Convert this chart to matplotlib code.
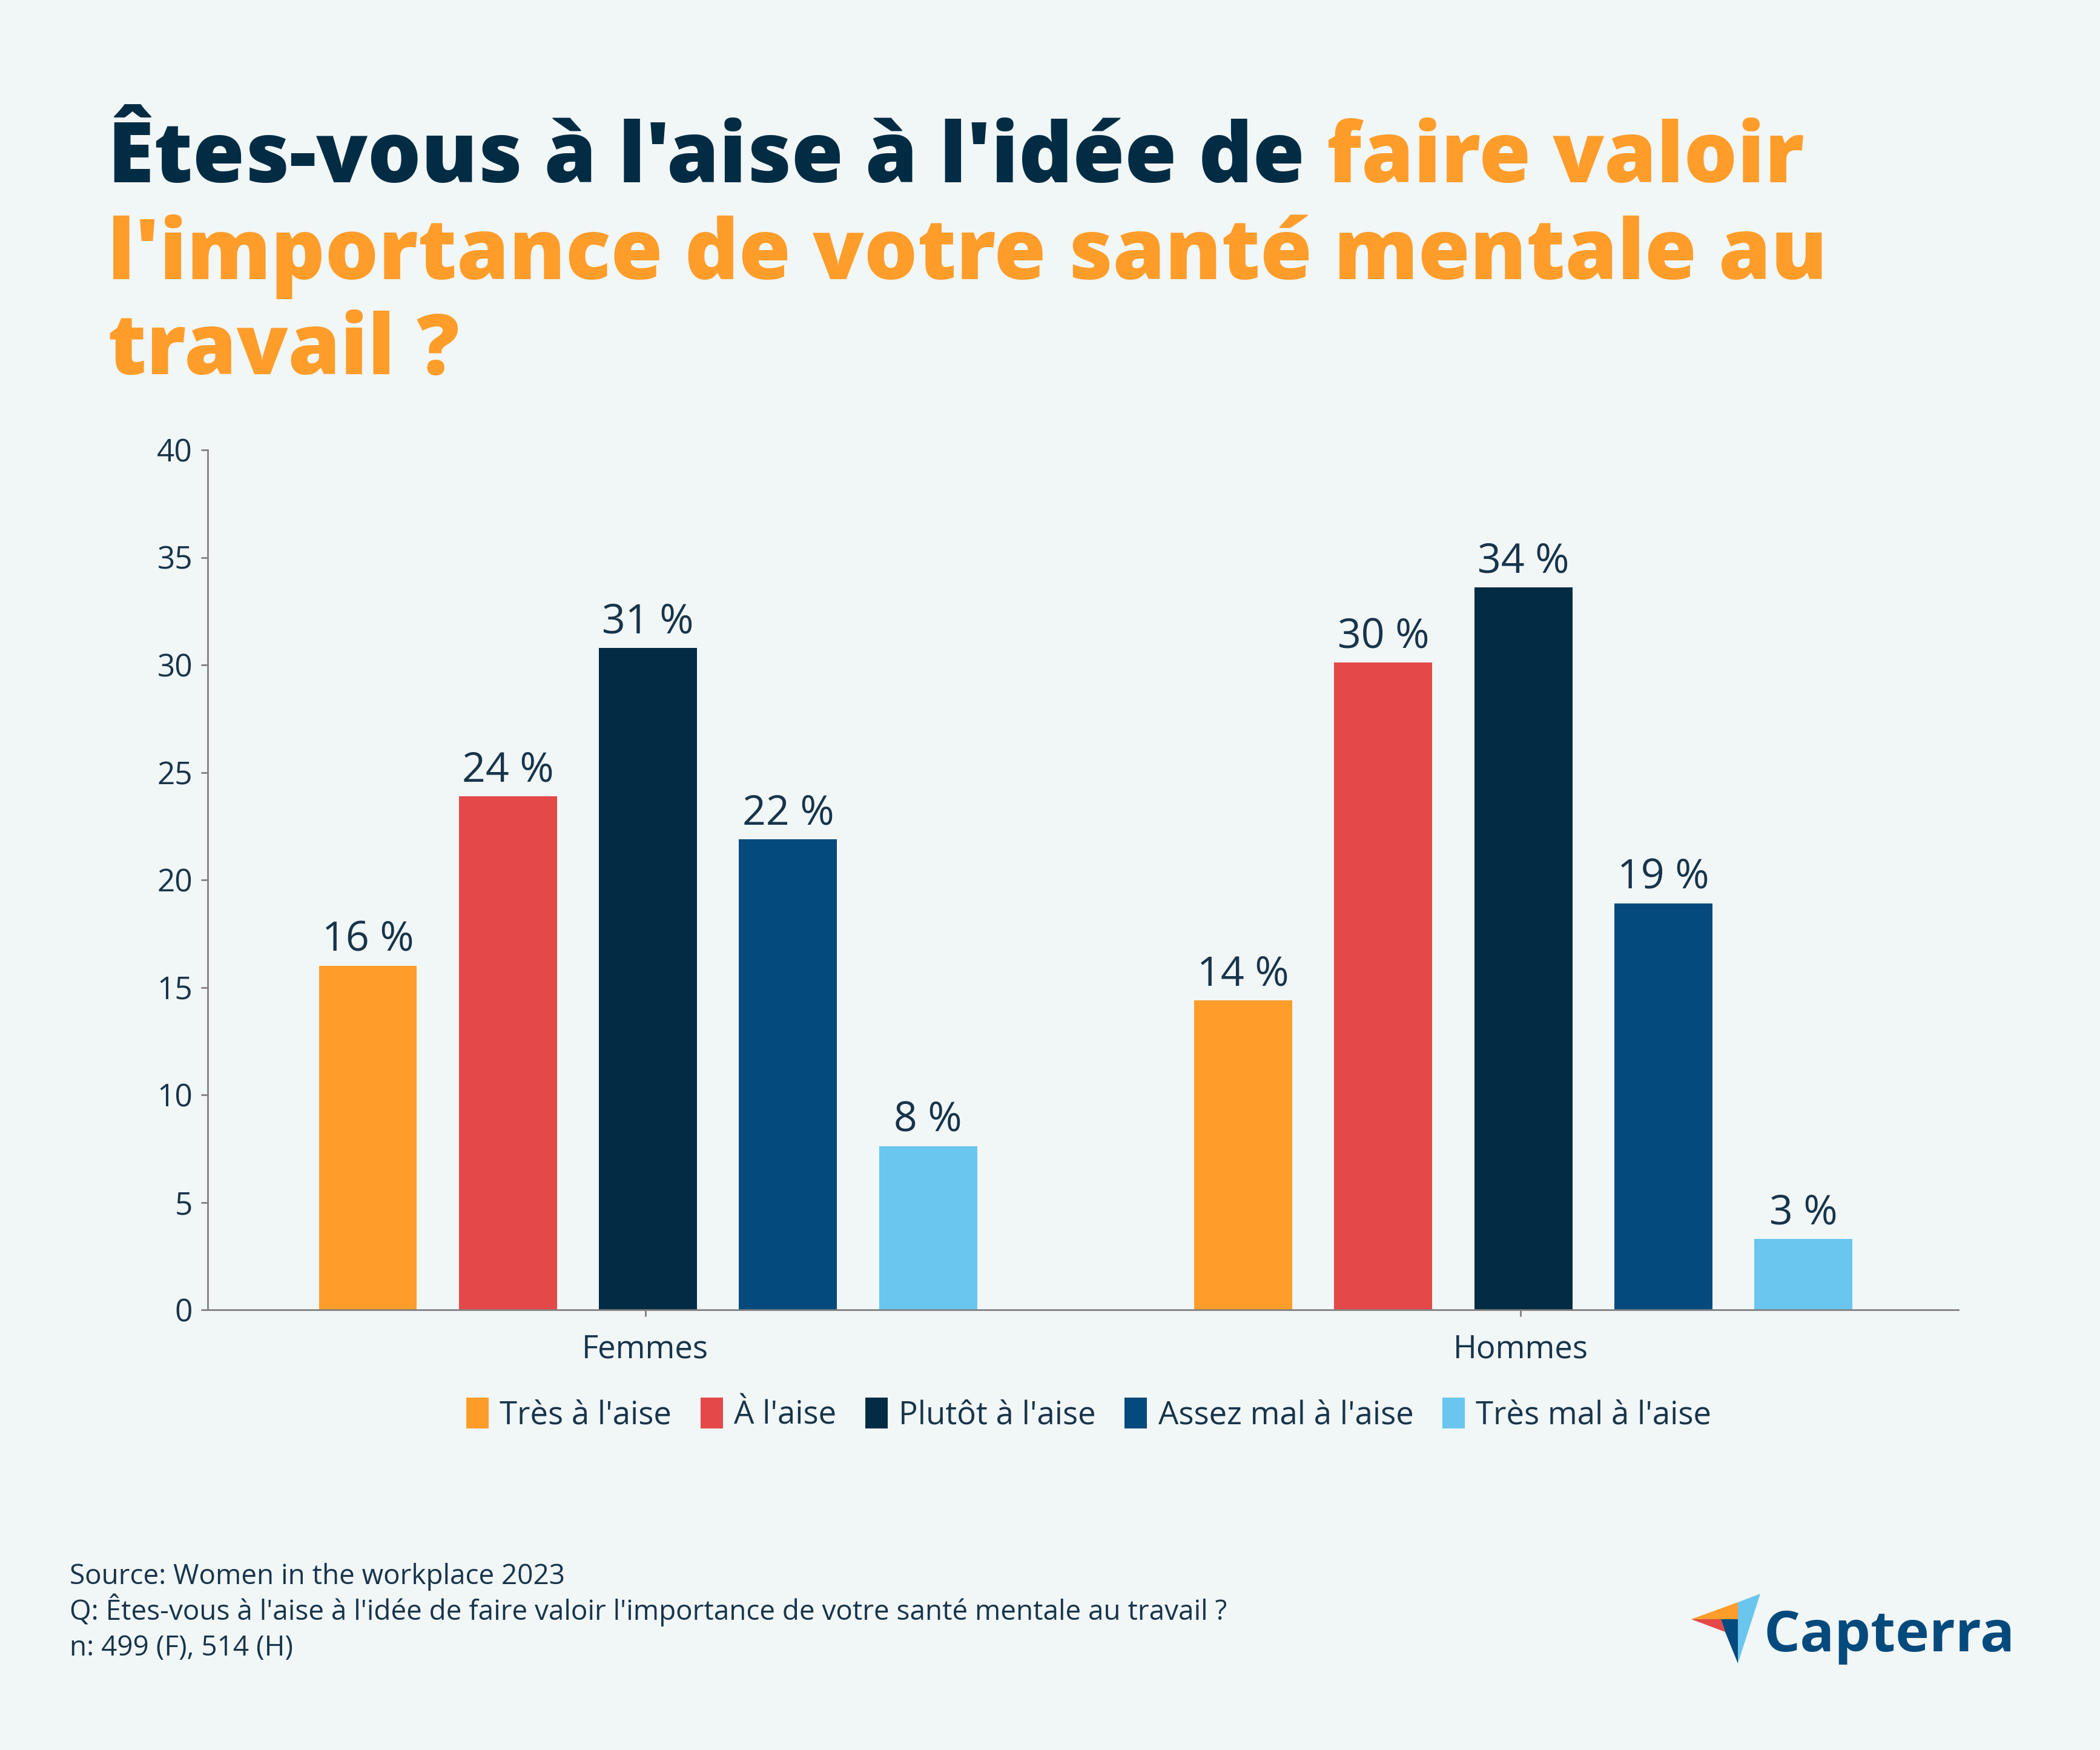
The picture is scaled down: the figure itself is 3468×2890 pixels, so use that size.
import matplotlib
matplotlib.use("Agg")
import matplotlib.pyplot as plt
import numpy as np
from matplotlib.patches import Polygon, Patch

# Datos
grupos = ["Femmes", "Hommes"]
respuestas = ["Très à l'aise", "À l'aise", "Plutôt à l'aise", "Assez mal à l'aise", "Très mal à l'aise"]
femmes = [16.0, 23.9, 30.8, 21.9, 7.6]
hommes = [14.4, 30.1, 33.6, 18.9, 3.3]
etiquetas_f = ["16 %", "24 %", "31 %", "22 %", "8 %"]
etiquetas_h = ["14 %", "30 %", "34 %", "19 %", "3 %"]
colores = ["#FF9D2B", "#E54848", "#022C44", "#054A7D", "#6AC6EE"]

fondo = "#F1F6F6"
azul_texto = "#17344B"
naranja = "#FF9D2B"

plt.rcParams["font.family"] = ["Open Sans", "DejaVu Sans"]

W, H = 3468, 2890
fig = plt.figure(figsize=(W / 100, H / 100), dpi=100, facecolor=fondo)
ax = fig.add_axes([343 / W, 1 - 2163 / H, (3234 - 343) / W, (2163 - 743) / H])
ax.set_facecolor(fondo)

# Barras
x = np.arange(len(grupos))
ancho = 0.112
paso = 0.16
for i, resp in enumerate(respuestas):
    alturas = [femmes[i], hommes[i]]
    barras = ax.bar(x + (i - 2) * paso + 0.003, alturas, width=ancho, color=colores[i], label=resp)
    ax.bar_label(barras, labels=[etiquetas_f[i], etiquetas_h[i]], padding=6,
                 fontsize=49, color=azul_texto)

ax.set_xlim(-0.5, 1.5)
ax.set_ylim(0, 40)
ax.set_yticks(range(0, 41, 5))
ax.set_xticks(x)
ax.set_xticklabels(grupos)
for s in ["top", "right"]:
    ax.spines[s].set_visible(False)
for s in ["left", "bottom"]:
    ax.spines[s].set_color("#808080")
    ax.spines[s].set_linewidth(2)
ax.tick_params(axis="y", labelsize=37, colors="#808080", labelcolor=azul_texto,
               length=8, width=2, pad=10)
ax.tick_params(axis="x", labelsize=38, colors="#808080", labelcolor=azul_texto,
               length=8, width=2, pad=20)

# Leyenda
manejadores = [Patch(facecolor=c, label=r) for c, r in zip(colores, respuestas)]
fig.legend(handles=manejadores, loc="center", bbox_to_anchor=(0.5185, 1 - 2336 / H),
           ncol=5, frameon=False, fontsize=38, labelcolor=azul_texto,
           handlelength=0.7, handleheight=1.1, handletextpad=0.35, columnspacing=0.9)

# Titulo en varios colores
renderer = fig.canvas.get_renderer()
tam_titulo = 100
def ancho_texto(s):
    t = fig.text(0, 0, s, fontsize=tam_titulo, fontweight="heavy")
    w = t.get_window_extent(renderer).width
    t.remove()
    return w

x0 = 178 / W
t1 = fig.text(x0, 1 - 301 / H, "Êtes-vous à l'aise à l'idée de", fontsize=tam_titulo,
              fontweight="heavy", color="#022C44", va="baseline")
espacio = ancho_texto("x x") - ancho_texto("xx")
fin = t1.get_window_extent(renderer).x1
fig.text((fin + espacio) / W, 1 - 301 / H, "faire valoir", fontsize=tam_titulo,
         fontweight="heavy", color=naranja, va="baseline")
fig.text(x0, 1 - 461 / H, "l'importance de votre santé mentale au", fontsize=tam_titulo,
         fontweight="heavy", color=naranja, va="baseline")
fig.text(x0, 1 - 618 / H, "travail ?", fontsize=tam_titulo,
         fontweight="heavy", color=naranja, va="baseline")

# Pie de pagina
pie = ["Source: Women in the workplace 2023",
       "Q: Êtes-vous à l'aise à l'idée de faire valoir l'importance de votre santé mentale au travail ?",
       "n: 499 (F), 514 (H)"]
for k, linea in enumerate(pie):
    fig.text(115 / W, 1 - (2616 + 59 * k) / H, linea, fontsize=33, color=azul_texto,
             va="baseline")

# Logo Capterra
def px(p):
    return [(a / W, 1 - b / H) for a, b in p]
fig.patches.append(Polygon(px([(2793, 2674), (2870, 2646), (2870, 2674)]), closed=True,
                           facecolor="#FF9D2B", transform=fig.transFigure))
fig.patches.append(Polygon(px([(2793, 2674), (2842, 2674), (2849, 2695)]), closed=True,
                           facecolor="#E54848", transform=fig.transFigure))
fig.patches.append(Polygon(px([(2842, 2674), (2870, 2674), (2870, 2747), (2849, 2695)]),
                           closed=True, facecolor="#054A7D", transform=fig.transFigure))
fig.patches.append(Polygon(px([(2870, 2646), (2907, 2632), (2870, 2747)]), closed=True,
                           facecolor="#6AC6EE", transform=fig.transFigure))
fig.text(2913 / W, 1 - 2727 / H, "Capterra", fontsize=68, fontweight="bold",
         color="#054A7D", va="baseline")

fig.savefig("out.png", dpi=100, facecolor=fondo)
